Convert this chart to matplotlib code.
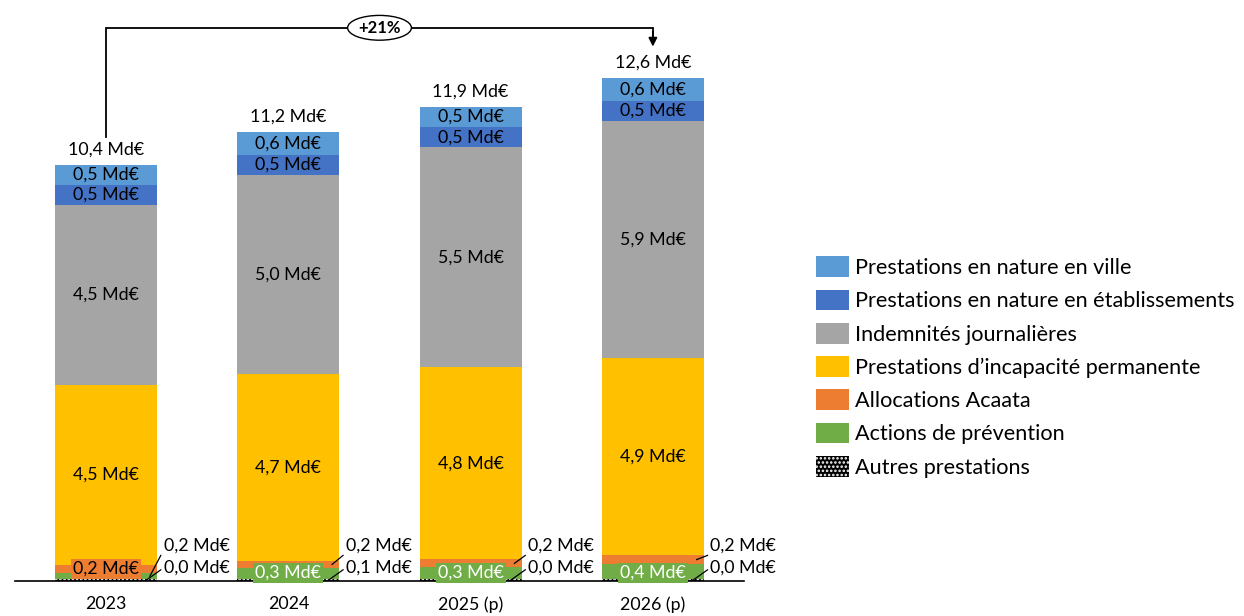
import matplotlib
matplotlib.use("Agg")
import matplotlib.pyplot as plt
from matplotlib.patches import Ellipse
import numpy as np

plt.rcParams['font.family'] = ['Lato', 'DejaVu Sans']
plt.rcParams['hatch.linewidth'] = 1.2

years = ["2023", "2024", "2025 (p)", "2026 (p)"]
series_names = ["Autres prestations", "Actions de prévention", "Allocations Acaata",
                "Prestations d’incapacité permanente", "Indemnités journalières",
                "Prestations en nature en établissements", "Prestations en nature en ville"]
autres = [0.04, 0.06, 0.04, 0.04]
prevention = [0.16, 0.26, 0.30, 0.38]
acaata = [0.20, 0.19, 0.20, 0.23]
incapacite = [4.50, 4.67, 4.80, 4.92]
indemnites = [4.50, 4.98, 5.50, 5.93]
etablissements = [0.50, 0.50, 0.50, 0.50]
ville = [0.50, 0.56, 0.52, 0.58]
growth_label = "+21%"

colors = ["#000000", "#70AD47", "#ED7D31", "#FFC000", "#A5A5A5", "#4472C4", "#5B9BD5"]
series = [autres, prevention, acaata, incapacite, indemnites, etablissements, ville]

def fmt(v):
    return f"{v:.1f}".replace(".", ",") + " Md€"

fig = plt.figure(figsize=(12.44, 6.16), dpi=100)
ax = fig.add_axes([15/1244, 35/616, 729/1244, 572/616])
x = np.arange(len(years))
w = 0.56
FS = 12.8

bottom = np.zeros(len(years))
bars = []
for name, vals, c in zip(series_names, series, colors):
    vals = np.array(vals)
    if name == "Autres prestations":
        b = ax.bar(x, vals, w, bottom=bottom, color=c, edgecolor="white", hatch="....",
                   linewidth=0, label=name)
    else:
        b = ax.bar(x, vals, w, bottom=bottom, color=c, linewidth=0, label=name)
    bars.append((name, vals, bottom.copy()))
    bottom = bottom + vals
totals = bottom

# inside labels for large segments
for name, vals, bot in bars:
    if name in ("Prestations d’incapacité permanente", "Indemnités journalières",
                "Prestations en nature en établissements", "Prestations en nature en ville"):
        for i in range(len(years)):
            ax.text(x[i], bot[i] + vals[i] / 2, fmt(vals[i]), ha="center", va="center",
                    fontsize=FS, color="black")

# small segments
for i in range(len(years)):
    xr = x[i] + w / 2
    if i == 0:
        ax.text(x[i], 0.3, fmt(acaata[i]), ha="center", va="center", fontsize=FS, color="black",
                bbox=dict(boxstyle="square,pad=0.12", fc=colors[2], ec="none"))
        up_val, up_y = prevention[i], autres[i] + prevention[i] / 2
    else:
        ax.text(x[i], 0.2, fmt(prevention[i]), ha="center", va="center", fontsize=FS, color="white",
                bbox=dict(boxstyle="square,pad=0.12", fc=colors[1], ec="none"))
        up_val, up_y = acaata[i], autres[i] + prevention[i] + acaata[i] / 2
    ax.text(xr + 0.035, 0.88, fmt(up_val), ha="left", va="center", fontsize=FS)
    ax.text(xr + 0.035, 0.33, fmt(autres[i]), ha="left", va="center", fontsize=FS)
    ax.plot([xr - 0.04, xr + 0.02], [up_y, 0.64], color="black", lw=0.9)
    ax.plot([xr - 0.06, xr + 0.02], [0.02, 0.28], color="black", lw=0.9)

# totals
for i in range(len(years)):
    ax.text(x[i], totals[i] + 0.38, fmt(totals[i]), ha="center", va="center", fontsize=FS)

# growth bracket
ytop = 13.83
ax.plot([x[0], x[0], x[-1], x[-1]], [totals[0] + 0.7, ytop, ytop, ytop - 0.2], color="black", lw=1.3,
        solid_joinstyle="miter")
ax.annotate("", xy=(x[-1], totals[-1] + 0.78), xytext=(x[-1], ytop - 0.1),
            arrowprops=dict(arrowstyle="-|>,head_width=0.25,head_length=0.5", color="black", lw=1.3,
                            shrinkA=0, shrinkB=0))
ax.add_patch(Ellipse((1.5, ytop), 0.35, 0.62, fc="white", ec="black", lw=1.0, zorder=5))
ax.text(1.5, ytop, growth_label, ha="center", va="center", fontsize=12, fontweight="bold", zorder=6)

ax.set_xlim(-0.5, 3.5)
ax.set_ylim(0, 14.3)
ax.set_xticks(x)
ax.set_xticklabels(years, fontsize=FS)
ax.tick_params(axis="x", length=0, pad=11)
ax.set_yticks([])
for s in ("top", "right", "left"):
    ax.spines[s].set_visible(False)
ax.spines["bottom"].set_linewidth(1.2)

handles, labels = ax.get_legend_handles_labels()
leg = fig.legend(handles[::-1], labels[::-1], loc="center left", bbox_to_anchor=(816/1244, 1 - 367/616),
                 frameon=False, fontsize=15.6, handlelength=1.5, handleheight=1.1,
                 labelspacing=0.53, handletextpad=0.3, borderaxespad=0, borderpad=0)

fig.savefig("out.png", dpi=100)
